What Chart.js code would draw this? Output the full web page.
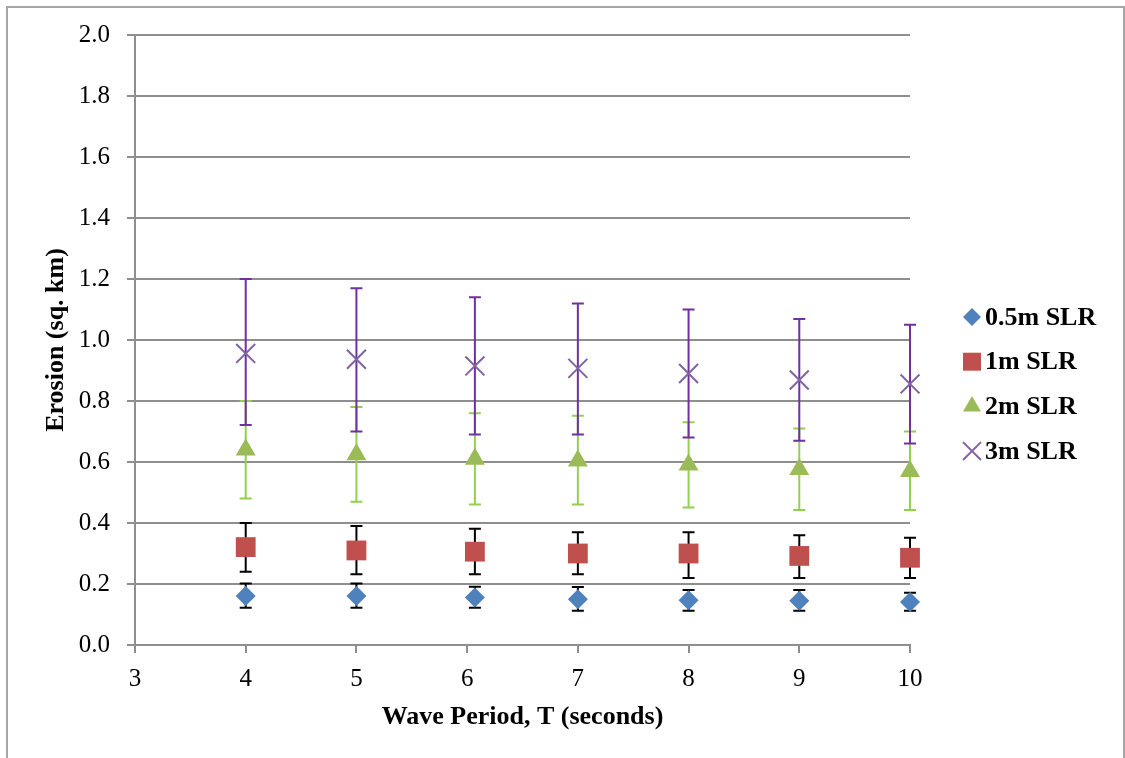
<!DOCTYPE html>
<html>
<head>
<meta charset="utf-8">
<title>Erosion vs Wave Period</title>
<script src="https://cdn.jsdelivr.net/npm/chart.js@4.4.0/dist/chart.umd.min.js"></script>
<style>
  html, body { margin: 0; padding: 0; background: #fff; overflow: hidden; }
  #wrap { position: relative; width: 1125px; height: 758px; }
  #frame {
    position: absolute; left: 6px; top: 6px; width: 1119px; height: 800px;
    border: 2px solid #a6a6a6; box-sizing: border-box; pointer-events: none;
  }
</style>
</head>
<body>
<div id="wrap">
  <canvas id="erosionChart"></canvas>
  <div id="frame"></div>
</div>
<script>
// wave period T (seconds)
const periods = [4, 5, 6.07, 7, 8, 9, 10];

// erosion (sq. km) per sea level rise scenario, with error bar limits
const slr05 = [0.161, 0.161, 0.156, 0.150, 0.147, 0.145, 0.141];
const slr05Low = [0.122, 0.122, 0.122, 0.112, 0.112, 0.112, 0.112];
const slr05High = [0.202, 0.202, 0.191, 0.190, 0.180, 0.180, 0.171];

const slr1 = [0.321, 0.310, 0.306, 0.300, 0.300, 0.292, 0.286];
const slr1Low = [0.240, 0.232, 0.232, 0.232, 0.220, 0.220, 0.220];
const slr1High = [0.400, 0.390, 0.381, 0.370, 0.370, 0.360, 0.352];

const slr2 = [0.640, 0.625, 0.610, 0.604, 0.591, 0.576, 0.570];
const slr2Low = [0.480, 0.470, 0.461, 0.461, 0.451, 0.443, 0.443];
const slr2High = [0.800, 0.780, 0.760, 0.752, 0.730, 0.710, 0.700];

const slr3 = [0.956, 0.937, 0.915, 0.907, 0.890, 0.869, 0.856];
const slr3Low = [0.721, 0.700, 0.690, 0.690, 0.680, 0.670, 0.661];
const slr3High = [1.200, 1.170, 1.140, 1.120, 1.100, 1.069, 1.050];

const seriesNames = ['0.5m SLR', '1m SLR', '2m SLR', '3m SLR'];

const serif = "'Liberation Serif', 'Times New Roman', serif";
const gridGray = '#8e8e8e';

const toPoints = (ys) => ys.map((y, i) => ({ x: periods[i], y: y }));

// error bars drawn through the chart scales
const errorBars = {
  id: 'errorBars',
  beforeDatasetsDraw(chart) {
    const ctx = chart.ctx;
    const xs = chart.scales.x;
    const ys = chart.scales.y;
    ctx.save();
    chart.data.datasets.forEach((ds) => {
      ctx.strokeStyle = ds.errColor;
      ctx.lineWidth = 2;
      ds.data.forEach((p, i) => {
        const px = xs.getPixelForValue(p.x);
        const top = ys.getPixelForValue(ds.errHigh[i]);
        const bot = ys.getPixelForValue(ds.errLow[i]);
        ctx.beginPath();
        ctx.moveTo(px, top);
        ctx.lineTo(px, bot);
        ctx.moveTo(px - 6, top);
        ctx.lineTo(px + 6, top);
        ctx.moveTo(px - 6, bot);
        ctx.lineTo(px + 6, bot);
        ctx.stroke();
      });
    });
    ctx.restore();
  }
};

// legend on the right, drawn with the library's point helper
const sideLegend = {
  id: 'sideLegend',
  afterDraw(chart) {
    const ctx = chart.ctx;
    const area = chart.chartArea;
    const markX = area.right + 62;
    const startY = 317;
    ctx.save();
    ctx.font = 'bold 26px ' + serif;
    ctx.textBaseline = 'middle';
    ctx.textAlign = 'left';
    chart.data.datasets.forEach((ds, i) => {
      const y = startY + i * 44.7;
      ctx.fillStyle = ds.pointBackgroundColor;
      ctx.strokeStyle = ds.pointBorderColor;
      ctx.lineWidth = ds.legendBorder;
      Chart.helpers.drawPoint(ctx, {
        pointStyle: ds.pointStyle,
        radius: ds.legendRadius,
        rotation: 0,
        borderWidth: ds.legendBorder
      }, markX, y);
      ctx.fillStyle = '#000';
      ctx.fillText(ds.label, markX + 13, y + 1);
    });
    ctx.restore();
  }
};

const ctx = document.getElementById('erosionChart').getContext('2d');
new Chart(ctx, {
  type: 'scatter',
  data: {
    datasets: [
      {
        label: seriesNames[0],
        data: toPoints(slr05),
        errLow: slr05Low,
        errHigh: slr05High,
        errColor: '#000000',
        pointStyle: 'rectRot',
        pointRadius: 10,
        pointBackgroundColor: '#4f81bd',
        pointBorderColor: '#4f81bd',
        pointBorderWidth: 0,
        legendRadius: 9,
        legendBorder: 0
      },
      {
        label: seriesNames[1],
        data: toPoints(slr1),
        errLow: slr1Low,
        errHigh: slr1High,
        errColor: '#000000',
        pointStyle: 'rect',
        pointRadius: 14,
        pointBackgroundColor: '#c0504d',
        pointBorderColor: '#c0504d',
        pointBorderWidth: 0,
        legendRadius: 12.7,
        legendBorder: 0
      },
      {
        label: seriesNames[2],
        data: toPoints(slr2),
        errLow: slr2Low,
        errHigh: slr2High,
        errColor: '#92d050',
        pointStyle: 'triangle',
        pointRadius: 11.5,
        pointBackgroundColor: '#9bbb59',
        pointBorderColor: '#9bbb59',
        pointBorderWidth: 0,
        legendRadius: 10.4,
        legendBorder: 0
      },
      {
        label: seriesNames[3],
        data: toPoints(slr3),
        errLow: slr3Low,
        errHigh: slr3High,
        errColor: '#7030a0',
        pointStyle: 'crossRot',
        pointRadius: 13.4,
        pointBackgroundColor: '#8064a2',
        pointBorderColor: '#8064a2',
        pointBorderWidth: 2,
        legendRadius: 12.7,
        legendBorder: 2
      }
    ]
  },
  options: {
    responsive: true,
    maintainAspectRatio: false,
    animation: false,
    datasets: { scatter: { clip: false } },
    layout: { padding: { top: 35, right: 215, bottom: 0, left: 0 } },
    plugins: {
      legend: { display: false },
      tooltip: { enabled: false }
    },
    scales: {
      x: {
        type: 'linear',
        min: 3,
        max: 10,
        afterFit: (scale) => { scale.height = 113; },
        ticks: {
          stepSize: 1,
          color: '#000',
          padding: 11,
          font: { family: serif, size: 25 }
        },
        grid: {
          drawOnChartArea: false,
          drawTicks: true,
          tickLength: 8,
          color: gridGray,
          lineWidth: 2
        },
        border: { display: true, color: gridGray, width: 2 },
        title: {
          display: true,
          text: 'Wave Period, T (seconds)',
          color: '#000',
          padding: { top: 0, bottom: 25 },
          font: { family: serif, size: 26, weight: 'bold' }
        }
      },
      y: {
        type: 'linear',
        min: 0,
        max: 2,
        afterFit: (scale) => { scale.width = 135; },
        ticks: {
          stepSize: 0.2,
          color: '#000',
          padding: 17,
          font: { family: serif, size: 25 },
          callback: (v) => v.toFixed(1)
        },
        grid: {
          drawOnChartArea: true,
          drawTicks: true,
          tickLength: 8,
          color: gridGray,
          lineWidth: 2
        },
        border: { display: true, color: gridGray, width: 2 },
        title: {
          display: true,
          text: 'Erosion (sq. km)',
          color: '#000',
          padding: { top: 41, bottom: 0 },
          font: { family: serif, size: 26, weight: 'bold' }
        }
      }
    }
  },
  plugins: [errorBars, sideLegend]
});
</script>
</body>
</html>
